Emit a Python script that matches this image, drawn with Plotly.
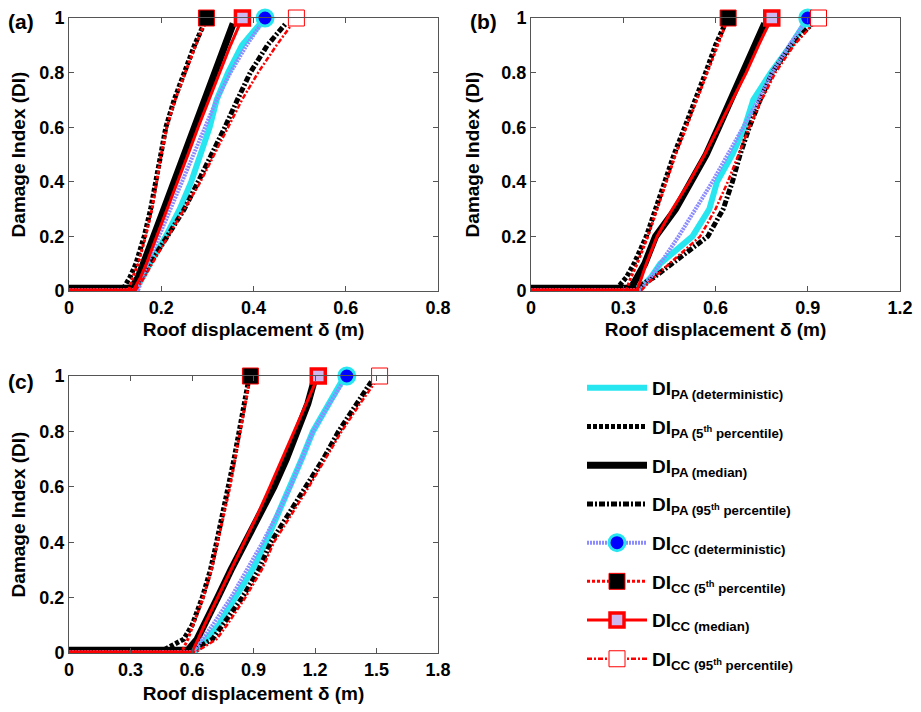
import plotly.graph_objects as go

# ---------------- data ----------------
# Damage-index levels at which the curves were sampled
PA_DI = [0.01, 0.01, 0.05, 0.1, 0.2, 0.3, 0.4, 0.5, 0.6, 0.7, 0.8, 0.9, 0.98]
CC_DI = [0.004, 0.004, 0.05, 0.1, 0.2, 0.3, 0.4, 0.5, 0.6, 0.7, 0.8, 0.9, 1.0]

# Panel (a): roof displacement (m)
A_PA_DET = [0, 0.145, 0.16, 0.175, 0.21, 0.24, 0.265, 0.285, 0.305, 0.32, 0.345, 0.375, 0.415]
A_PA_P5 = [0, 0.118, 0.132, 0.145, 0.163, 0.177, 0.188, 0.198, 0.21, 0.228, 0.25, 0.272, 0.293]
A_PA_MED = [0, 0.135, 0.15, 0.162, 0.184, 0.206, 0.228, 0.25, 0.272, 0.294, 0.316, 0.338, 0.356]
A_PA_P95 = [0, 0.14, 0.158, 0.175, 0.213, 0.25, 0.28, 0.31, 0.338, 0.365, 0.393, 0.43, 0.47]
A_CC_DET = [0, 0.15, 0.16, 0.17, 0.195, 0.22, 0.245, 0.27, 0.295, 0.32, 0.35, 0.385, 0.425]
A_CC_P5 = [0, 0.13, 0.138, 0.15, 0.166, 0.18, 0.19, 0.2, 0.212, 0.23, 0.252, 0.275, 0.298]
A_CC_MED = [0, 0.14, 0.155, 0.168, 0.19, 0.213, 0.235, 0.258, 0.28, 0.303, 0.326, 0.35, 0.376]
A_CC_P95 = [0, 0.145, 0.163, 0.18, 0.215, 0.25, 0.285, 0.315, 0.345, 0.375, 0.41, 0.45, 0.493]

# Panel (b)
B_PA_DET = [0, 0.355, 0.39, 0.42, 0.525, 0.58, 0.605, 0.655, 0.695, 0.723, 0.78, 0.845, 0.89]
B_PA_P5 = [0, 0.28, 0.31, 0.335, 0.375, 0.405, 0.435, 0.465, 0.5, 0.535, 0.568, 0.6, 0.632]
B_PA_MED = [0, 0.325, 0.345, 0.37, 0.405, 0.47, 0.52, 0.57, 0.61, 0.65, 0.69, 0.725, 0.76]
B_PA_P95 = [0, 0.34, 0.4, 0.46, 0.575, 0.625, 0.655, 0.68, 0.71, 0.745, 0.785, 0.845, 0.915]
B_CC_DET = [0, 0.355, 0.39, 0.42, 0.48, 0.535, 0.59, 0.64, 0.69, 0.74, 0.785, 0.84, 0.9]
B_CC_P5 = [0, 0.31, 0.325, 0.345, 0.38, 0.41, 0.44, 0.47, 0.505, 0.54, 0.573, 0.607, 0.641]
B_CC_MED = [0, 0.345, 0.36, 0.375, 0.41, 0.46, 0.515, 0.565, 0.61, 0.655, 0.7, 0.74, 0.783]
B_CC_P95 = [0, 0.36, 0.4, 0.45, 0.55, 0.6, 0.64, 0.675, 0.71, 0.75, 0.795, 0.855, 0.935]

# Panel (c)
C_PA_DET = [0, 0.62, 0.67, 0.73, 0.81, 0.895, 0.96, 1.02, 1.08, 1.135, 1.19, 1.265, 1.33]
C_PA_P5 = [0, 0.46, 0.56, 0.6, 0.65, 0.69, 0.72, 0.75, 0.78, 0.805, 0.83, 0.855, 0.875]
C_PA_MED = [0, 0.58, 0.625, 0.66, 0.725, 0.79, 0.86, 0.93, 1.0, 1.06, 1.115, 1.165, 1.195]
C_PA_P95 = [0, 0.6, 0.7, 0.75, 0.845, 0.925, 0.985, 1.07, 1.155, 1.24, 1.315, 1.4, 1.475]
C_CC_DET = [0, 0.61, 0.65, 0.7, 0.79, 0.87, 0.945, 1.015, 1.08, 1.135, 1.19, 1.27, 1.355]
C_CC_P5 = [0, 0.55, 0.58, 0.605, 0.655, 0.695, 0.725, 0.755, 0.785, 0.81, 0.835, 0.86, 0.885]
C_CC_MED = [0, 0.6, 0.63, 0.66, 0.725, 0.79, 0.855, 0.92, 0.98, 1.04, 1.1, 1.16, 1.216]
C_CC_P95 = [0, 0.62, 0.72, 0.77, 0.86, 0.94, 1.0, 1.085, 1.17, 1.25, 1.33, 1.42, 1.515]

PANEL_LABELS = ["(a)", "(b)", "(c)"]
X_TICKS_A = [0, 0.2, 0.4, 0.6, 0.8]
X_TICKS_B = [0, 0.3, 0.6, 0.9, 1.2]
X_TICKS_C = [0, 0.3, 0.6, 0.9, 1.2, 1.5, 1.8]
Y_TICKS = [0, 0.2, 0.4, 0.6, 0.8, 1]
X_TITLE = "Roof displacement δ (m)"
Y_TITLE = "Damage Index (DI)"

SERIES_KEYS = ["PA_DET", "PA_P5", "PA_MED", "PA_P95", "CC_DET", "CC_P5", "CC_MED", "CC_P95"]
SERIES_NAMES = [
    "DI<sub>PA (deterministic)</sub>",
    "DI<sub>PA (5<sup>th</sup> percentile)</sub>",
    "DI<sub>PA (median)</sub>",
    "DI<sub>PA (95<sup>th</sup> percentile)</sub>",
    "DI<sub>CC (deterministic)</sub>",
    "DI<sub>CC (5<sup>th</sup> percentile)</sub>",
    "DI<sub>CC (median)</sub>",
    "DI<sub>CC (95<sup>th</sup> percentile)</sub>",
]

PANELS = [
    [A_PA_DET, A_PA_P5, A_PA_MED, A_PA_P95, A_CC_DET, A_CC_P5, A_CC_MED, A_CC_P95],
    [B_PA_DET, B_PA_P5, B_PA_MED, B_PA_P95, B_CC_DET, B_CC_P5, B_CC_MED, B_CC_P95],
    [C_PA_DET, C_PA_P5, C_PA_MED, C_PA_P95, C_CC_DET, C_CC_P5, C_CC_MED, C_CC_P95],
]
X_TICKS = [X_TICKS_A, X_TICKS_B, X_TICKS_C]

# ---------------- styles ----------------
FONT = "Liberation Sans, Arial, sans-serif"
LINE = {
    "PA_DET": dict(color="rgb(40,230,240)", width=6),
    "PA_P5": dict(color="black", width=5, dash="4px,2px"),
    "PA_MED": dict(color="black", width=7),
    "PA_P95": dict(color="black", width=5, dash="6px,2px,2px,2px"),
    "CC_DET": dict(color="rgb(140,140,255)", width=4, dash="2px,1px"),
    "CC_P5": dict(color="red", width=3, dash="3px,2px"),
    "CC_MED": dict(color="red", width=3),
    "CC_P95": dict(color="red", width=2.5, dash="5px,2px,2px,2px"),
}
MARKER = {
    "CC_DET": dict(symbol="circle", size=16, color="blue", line=dict(color="rgb(40,230,240)", width=3)),
    "CC_P5": dict(symbol="square", size=16, color="black", line=dict(color="red", width=1)),
    "CC_MED": dict(symbol="square", size=14, color="rgb(205,185,240)", line=dict(color="red", width=3.5)),
    "CC_P95": dict(symbol="square", size=16, color="white", line=dict(color="red", width=1)),
}

# The page body adds an 8 px margin, so the figure is shrunk by 16 px and
# every target page-pixel position is shifted by 8 px.
OFF = 8
W, H = 921 - 2 * OFF, 712 - 2 * OFF
def px_x(p):
    return (p - OFF) / W
def px_y(p):
    return 1 - (p - OFF) / H

DOMAINS = [
    (dict(x=[px_x(69), px_x(438)], y=[px_y(291), px_y(18)])),
    (dict(x=[px_x(531), px_x(900)], y=[px_y(291), px_y(18)])),
    (dict(x=[px_x(69), px_x(438)], y=[px_y(653), px_y(376)])),
]

fig = go.Figure()
for p, series in enumerate(PANELS):
    xa = "x" if p == 0 else f"x{p+1}"
    ya = "y" if p == 0 else f"y{p+1}"
    for k, key in enumerate(SERIES_KEYS):
        xs = series[k]
        is_cc = key.startswith("CC")
        ys = CC_DI if is_cc else PA_DI
        tr = dict(
            x=xs, y=ys, xaxis=xa, yaxis=ya,
            name=SERIES_NAMES[k], legendgroup=key,
            showlegend=(p == 0), line=LINE[key], cliponaxis=False,
            hoverinfo="skip",
        )
        if key in MARKER:
            tr.update(
                mode="lines+markers", marker=MARKER[key],
                selectedpoints=[len(xs) - 1],
                selected=dict(marker=dict(opacity=1)),
                unselected=dict(marker=dict(opacity=0)),
            )
        else:
            tr.update(mode="lines")
        fig.add_trace(go.Scatter(**tr))

axis_common = dict(
    showline=True, linecolor="#555", linewidth=1, mirror="ticks",
    ticks="inside", ticklen=5, tickcolor="#555", showgrid=False, zeroline=False,
    automargin=False, ticklabeloverflow="allow",
    tickfont=dict(family=FONT, size=18, color="black", weight="bold"),
)
layout = dict(
    width=W, height=H, margin=dict(l=0, r=0, t=0, b=0, autoexpand=False),
    plot_bgcolor="white", paper_bgcolor="white",
    font=dict(family=FONT, size=18, color="black", weight="bold"),
    legend=dict(
        x=px_x(582), y=px_y(369), xanchor="left", yanchor="top",
        itemwidth=60, tracegroupgap=11, bgcolor="rgba(0,0,0,0)",
        font=dict(family=FONT, size=19, color="black", weight="bold"),
    ),
    showlegend=True,
)
for p in range(3):
    xn = "xaxis" if p == 0 else f"xaxis{p+1}"
    yn = "yaxis" if p == 0 else f"yaxis{p+1}"
    ticks = X_TICKS[p]
    layout[xn] = dict(
        axis_common, domain=DOMAINS[p]["x"], range=[ticks[0], ticks[-1]],
        tickvals=ticks, ticktext=[f"{t:g}" for t in ticks],
        anchor="y" if p == 0 else f"y{p+1}",
        title=dict(text=X_TITLE, font=dict(family=FONT, size=19, weight="bold"),
                   standoff=(15 if p == 2 else 6)),
    )
    layout[yn] = dict(
        axis_common, domain=DOMAINS[p]["y"], range=[0, 1],
        tickvals=Y_TICKS, ticktext=[f"{t:g}" for t in Y_TICKS],
        anchor="x" if p == 0 else f"x{p+1}",
        title=dict(text=Y_TITLE, font=dict(family=FONT, size=19, weight="bold"), standoff=16),
    )
fig.update_layout(**layout)

label_pos = [(21, 22), (483, 22), (21, 381)]
for lab, (lx, ly) in zip(PANEL_LABELS, label_pos):
    fig.add_annotation(
        text=lab, x=px_x(lx), y=px_y(ly), xref="paper", yref="paper",
        showarrow=False, xanchor="center", yanchor="middle",
        font=dict(family=FONT, size=21, color="black", weight="bold"),
    )

fig.write_html("out.html")
